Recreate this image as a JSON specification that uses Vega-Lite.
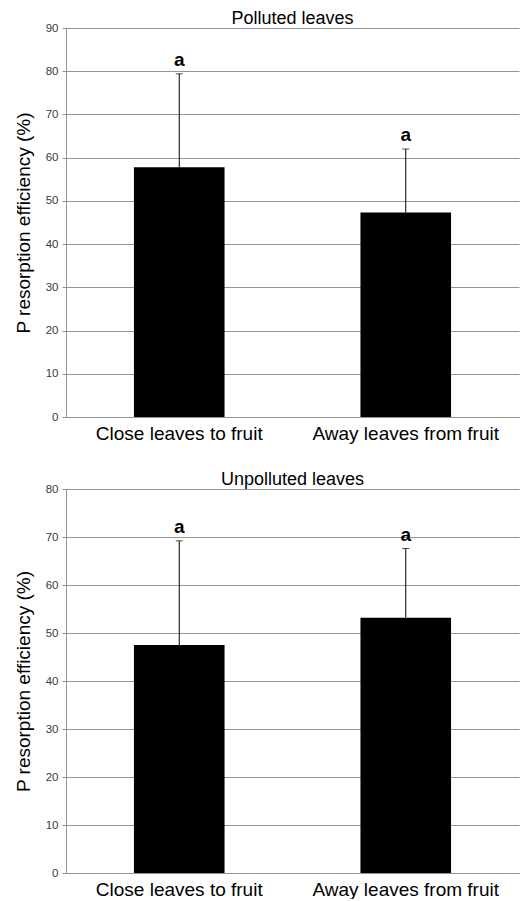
{
  "$schema": "https://vega.github.io/schema/vega-lite/v6.json",
  "padding": {"left": 14, "top": 10, "right": 2, "bottom": 0},
  "background": "white",
  "config": {
    "font": "Liberation Sans",
    "view": {"stroke": null},
    "title": {"fontSize": 18, "fontWeight": "normal", "color": "#000", "offset": -6, "frame": "group"},
    "axisY": {
      "grid": true, "gridColor": "#949494", "gridWidth": 1,
      "domainColor": "#949494", "tickColor": "#949494", "tickSize": 4,
      "labelFontSize": 11.5, "labelColor": "#3a3a3a", "labelPadding": 4,
      "titleFontSize": 19, "titleFontWeight": "normal", "titleColor": "#000", "titlePadding": 12
    },
    "axisX": {
      "grid": false, "ticks": false, "domainColor": "#949494",
      "labelAngle": 0, "labelFontSize": 19, "labelColor": "#000", "labelPadding": 7, "labelLimit": 0, "title": null
    }
  },
  "datasets": {
    "polluted": [
      {"group": "Close leaves to fruit", "mean": 57.8, "upper": 79.4, "letter": "a"},
      {"group": "Away leaves from fruit", "mean": 47.3, "upper": 62.0, "letter": "a"}
    ],
    "unpolluted": [
      {"group": "Close leaves to fruit", "mean": 47.5, "upper": 69.2, "letter": "a"},
      {"group": "Away leaves from fruit", "mean": 53.2, "upper": 67.6, "letter": "a"}
    ]
  },
  "spacing": 28,
  "vconcat": [
    {
      "title": "Polluted leaves",
      "width": 453,
      "height": 389,
      "data": {"name": "polluted"},
      "encoding": {
        "x": {"field": "group", "type": "nominal", "sort": null, "scale": {"paddingInner": 0, "paddingOuter": 0}, "axis": {"title": null}}
      },
      "layer": [
        {
          "mark": {"type": "bar", "color": "#000", "width": {"band": 0.4}},
          "encoding": {
            "y": {"field": "mean", "type": "quantitative", "scale": {"domain": [0, 90]},
                  "axis": {"values": [0,10,20,30,40,50,60,70,80,90], "title": "P resorption efficiency (%)"}}
          }
        },
        {
          "mark": {"type": "rule", "color": "#000", "strokeWidth": 1},
          "encoding": {"y": {"field": "mean", "type": "quantitative"}, "y2": {"field": "upper"}}
        },
        {
          "mark": {"type": "tick", "color": "#000", "orient": "horizontal", "size": 7, "thickness": 1},
          "encoding": {"y": {"field": "upper", "type": "quantitative"}}
        },
        {
          "mark": {"type": "text", "fontSize": 19, "fontWeight": "bold", "baseline": "alphabetic", "dy": -8, "color": "#000"},
          "encoding": {"y": {"field": "upper", "type": "quantitative"}, "text": {"field": "letter"}}
        }
      ]
    },
    {
      "title": "Unpolluted leaves",
      "width": 453,
      "height": 384,
      "data": {"name": "unpolluted"},
      "encoding": {
        "x": {"field": "group", "type": "nominal", "sort": null, "scale": {"paddingInner": 0, "paddingOuter": 0}, "axis": {"title": null}}
      },
      "layer": [
        {
          "mark": {"type": "bar", "color": "#000", "width": {"band": 0.4}},
          "encoding": {
            "y": {"field": "mean", "type": "quantitative", "scale": {"domain": [0, 80]},
                  "axis": {"values": [0,10,20,30,40,50,60,70,80], "title": "P resorption efficiency (%)"}}
          }
        },
        {
          "mark": {"type": "rule", "color": "#000", "strokeWidth": 1},
          "encoding": {"y": {"field": "mean", "type": "quantitative"}, "y2": {"field": "upper"}}
        },
        {
          "mark": {"type": "tick", "color": "#000", "orient": "horizontal", "size": 7, "thickness": 1},
          "encoding": {"y": {"field": "upper", "type": "quantitative"}}
        },
        {
          "mark": {"type": "text", "fontSize": 19, "fontWeight": "bold", "baseline": "alphabetic", "dy": -8, "color": "#000"},
          "encoding": {"y": {"field": "upper", "type": "quantitative"}, "text": {"field": "letter"}}
        }
      ]
    }
  ]
}
